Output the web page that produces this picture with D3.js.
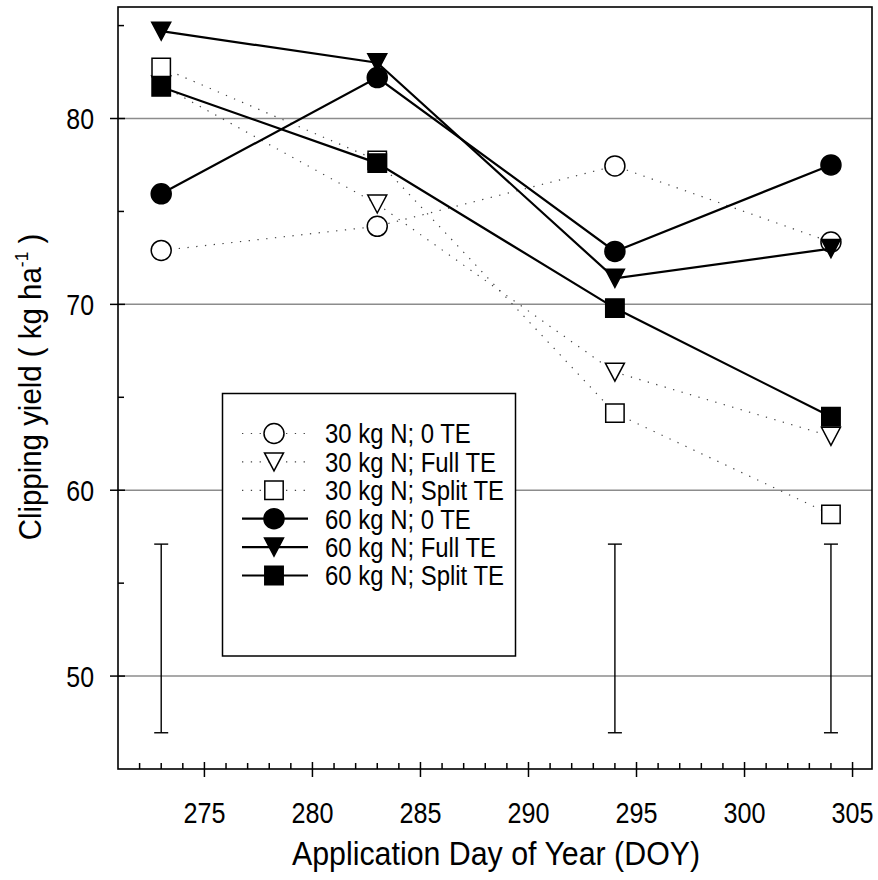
<!DOCTYPE html>
<html>
<head>
<meta charset="utf-8">
<script src="https://cdn.jsdelivr.net/npm/d3@7"></script>
<style>
  html, body { margin: 0; padding: 0; background: #fff; }
  svg text { font-family: "Liberation Sans", Arial, sans-serif; fill: #000; }
</style>
</head>
<body>
<div id="chart"></div>
<script>
// ── Data ────────────────────────────────────────────────────────────────────
const doy = [273, 283, 294, 304];

const n30_0TE     = [72.9, 74.2, 77.45, 73.35];
const n30_fullTE  = [81.8, 75.4, 66.35, 62.9];
const n30_splitTE = [82.75, 77.75, 64.15, 58.7];
const n60_0TE     = [75.95, 82.2, 72.85, 77.5];
const n60_fullTE  = [84.7, 83.0, 71.4, 73.0];
const n60_splitTE = [81.7, 77.6, 69.8, 63.95];

// LSD-style error bars
const errDoy  = [273, 294, 304];
const errLow  = [46.95, 46.95, 46.95];
const errHigh = [57.1, 57.1, 57.1];

const xTicks = [275, 280, 285, 290, 295, 300, 305];
const yTicks = [50, 60, 70, 80];

const series = [
  { name: '30 kg N; 0 TE',     values: n30_0TE,     shape: 'circle',   filled: false },
  { name: '30 kg N; Full TE',  values: n30_fullTE,  shape: 'triangle', filled: false },
  { name: '30 kg N; Split TE', values: n30_splitTE, shape: 'square',   filled: false },
  { name: '60 kg N; 0 TE',     values: n60_0TE,     shape: 'circle',   filled: true },
  { name: '60 kg N; Full TE',  values: n60_fullTE,  shape: 'triangle', filled: true },
  { name: '60 kg N; Split TE', values: n60_splitTE, shape: 'square',   filled: true }
];

// ── Layout ──────────────────────────────────────────────────────────────────
const W = 878, H = 880;
const L = 118, R = 872, T = 7, B = 769;

const x = d3.scaleLinear().domain([271, 305.9]).range([L, R]);
const y = d3.scaleLinear().domain([45, 86]).range([B, T]);

const svg = d3.select('#chart').append('svg')
  .attr('width', W).attr('height', H);

// no narrow font installed: squeeze text horizontally instead
function narrowText(g, px, py, sx, size, str, anchor) {
  return g.append('text')
    .attr('transform', `translate(${px},${py}) scale(${sx},1)`)
    .attr('text-anchor', anchor || 'start')
    .style('font-size', size + 'px')
    .text(str);
}

// Marker paths, centred on the bounding box
function markerPath(shape) {
  if (shape === 'circle') return d3.symbol(d3.symbolCircle, Math.PI * 10 * 10)();
  if (shape === 'square') return 'M-9.2,-9.2H9.2V9.2H-9.2Z';
  return 'M-9.5,-9L9.5,-9L0,9Z';
}

function drawMarker(g, s, cx, cy) {
  g.append('path')
    .attr('d', markerPath(s.shape))
    .attr('transform', `translate(${cx},${cy})`)
    .attr('fill', s.filled ? '#000' : '#fff')
    .attr('stroke', '#000')
    .attr('stroke-width', 1.5);
}

function lineStyle(sel, s) {
  if (s.filled) {
    sel.attr('stroke', '#000').attr('stroke-width', 2.2);
  } else {
    sel.attr('stroke', '#444').attr('stroke-width', 1.2).attr('stroke-dasharray', '1.3,7.5');
  }
}

// ── Grid ────────────────────────────────────────────────────────────────────
svg.append('g').selectAll('line')
  .data(yTicks)
  .join('line')
  .attr('x1', L).attr('x2', R)
  .attr('y1', d => y(d)).attr('y2', d => y(d))
  .attr('stroke', '#8c8c8c')
  .attr('stroke-width', 1.5);

// ── Error bars ──────────────────────────────────────────────────────────────
const gErr = svg.append('g').attr('stroke', '#000').attr('stroke-width', 1.4);
errDoy.forEach((d, i) => {
  const cx = x(d);
  gErr.append('line').attr('x1', cx).attr('x2', cx).attr('y1', y(errLow[i])).attr('y2', y(errHigh[i]));
  gErr.append('line').attr('x1', cx - 7).attr('x2', cx + 7).attr('y1', y(errLow[i])).attr('y2', y(errLow[i]));
  gErr.append('line').attr('x1', cx - 7).attr('x2', cx + 7).attr('y1', y(errHigh[i])).attr('y2', y(errHigh[i]));
});

// ── Series ──────────────────────────────────────────────────────────────────
const line = d3.line().x((d, i) => x(doy[i])).y(d => y(d));

series.forEach(s => {
  const g = svg.append('g');
  g.append('path')
    .attr('d', line(s.values))
    .attr('fill', 'none')
    .call(lineStyle, s);
  s.values.forEach((v, i) => drawMarker(g, s, x(doy[i]), y(v)));
});

// ── Axes ────────────────────────────────────────────────────────────────────
const gAx = svg.append('g').attr('stroke', '#000').attr('stroke-width', 1.5);

// minor ticks (inside)
d3.range(272, 306).filter(d => d % 5 !== 0).forEach(d => {
  gAx.append('line').attr('x1', x(d)).attr('x2', x(d)).attr('y1', B).attr('y2', B - 6);
});
[55, 65, 75, 85].forEach(d => {
  gAx.append('line').attr('x1', L).attr('x2', L + 6).attr('y1', y(d)).attr('y2', y(d));
});
// major ticks (crossing)
xTicks.forEach(d => {
  gAx.append('line').attr('x1', x(d)).attr('x2', x(d)).attr('y1', B - 7).attr('y2', B + 8);
});
yTicks.forEach(d => {
  gAx.append('line').attr('x1', L - 8).attr('x2', L + 7).attr('y1', y(d)).attr('y2', y(d));
});

// frame
svg.append('rect')
  .attr('x', L).attr('y', T)
  .attr('width', R - L).attr('height', B - T)
  .attr('fill', 'none')
  .attr('stroke', '#000')
  .attr('stroke-width', 1.6);

// tick labels
const gTx = svg.append('g');
xTicks.forEach(d => narrowText(gTx, x(d), 823, 0.84, 30, d, 'middle'));
const gTy = svg.append('g');
yTicks.forEach(d => narrowText(gTy, 94, y(d) + 10.5, 0.83, 30, d, 'end'));

// axis titles
narrowText(svg, (L + R) / 2 + 1, 865, 0.92, 33, 'Application Day of Year (DOY)', 'middle');

const yTitle = svg.append('text')
  .attr('transform', 'translate(41,387) rotate(-90) scale(0.92,1)')
  .attr('text-anchor', 'middle')
  .style('font-size', '32px');
yTitle.append('tspan').text('Clipping yield ( kg ha');
yTitle.append('tspan').attr('dy', -13).style('font-size', '19px').text('-1');
yTitle.append('tspan').attr('dy', 13).text(' )');

// ── Legend ──────────────────────────────────────────────────────────────────
const leg = svg.append('g');
leg.append('rect')
  .attr('x', 222.5).attr('y', 393.5)
  .attr('width', 293).attr('height', 262.5)
  .attr('fill', '#fff')
  .attr('stroke', '#000')
  .attr('stroke-width', 1.5);

series.forEach((s, i) => {
  const cy = 433.5 + i * 28.4;
  leg.append('line')
    .attr('x1', 242).attr('x2', 308)
    .attr('y1', cy).attr('y2', cy)
    .call(lineStyle, s);
  drawMarker(leg, s, 274, cy);
  narrowText(leg, 325, cy + 9.8, 0.87, 27.5, s.name);
});
</script>
</body>
</html>
